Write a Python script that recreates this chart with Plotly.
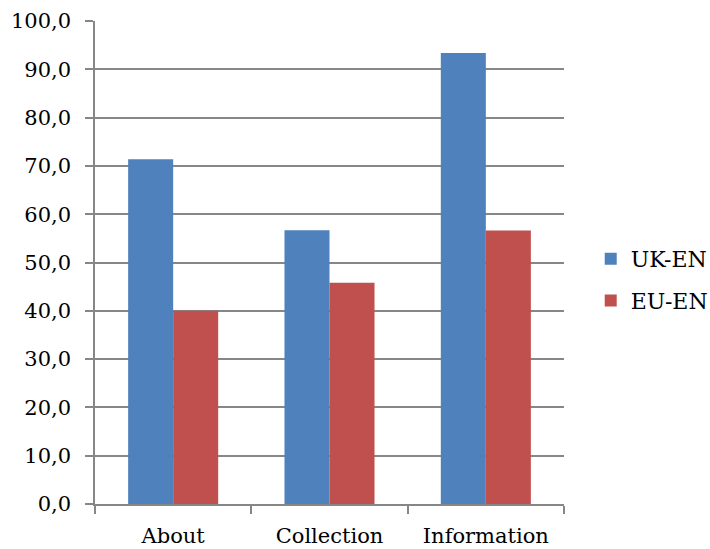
import plotly.graph_objects as go

categories = ["About", "Collection", "Information"]
uk_en = [71.4, 56.7, 93.4]
eu_en = [40.0, 45.8, 56.6]
y_ticks = [0, 10, 20, 30, 40, 50, 60, 70, 80, 90, 100]

BLUE = "#4F81BD"
RED = "#C0504D"
GRID = "#878787"
FONT = dict(family="DejaVu Serif", size=21, color="#000000")
LEGEND_FONT = dict(family="DejaVu Serif", size=22, color="#000000")

fig = go.Figure()
fig.add_trace(go.Bar(name="UK-EN", x=categories, y=uk_en, marker_color=BLUE,
                     marker_line_width=0, legendgroup="uk"))
fig.add_trace(go.Bar(name="EU-EN", x=categories, y=eu_en, marker_color=RED,
                     marker_line_width=0, legendgroup="eu"))

fig.update_layout(
    width=710, height=549,
    margin=dict(l=95, r=146, t=21, b=45),
    paper_bgcolor="white", plot_bgcolor="white",
    font=FONT,
    separators=",.",
    barmode="group", bargap=0.424, bargroupgap=0,
    legend=dict(
        xref="container", yref="container",
        x=0.832, y=0.49, xanchor="left", yanchor="middle",
        font=LEGEND_FONT, itemwidth=30, tracegroupgap=10,
        traceorder="grouped", bgcolor="rgba(0,0,0,0)",
    ),
    showlegend=True,
)

fig.update_yaxes(
    range=[0, 100], tickvals=y_ticks, tickformat=".1f",
    showgrid=True, gridcolor=GRID, gridwidth=1.5,
    showline=True, linecolor=GRID, linewidth=1.5,
    ticks="outside", ticklen=8, tickcolor=GRID, tickwidth=1.5,
    ticklabelstandoff=10, zeroline=False, automargin=False,
)
fig.update_xaxes(
    showline=True, linecolor=GRID, linewidth=1.5,
    ticks="outside", ticklen=8, tickcolor=GRID, tickwidth=1.5,
    tickson="boundaries", ticklabelstandoff=12,
    showgrid=False, automargin=False,
)

fig.write_html("out.html")
